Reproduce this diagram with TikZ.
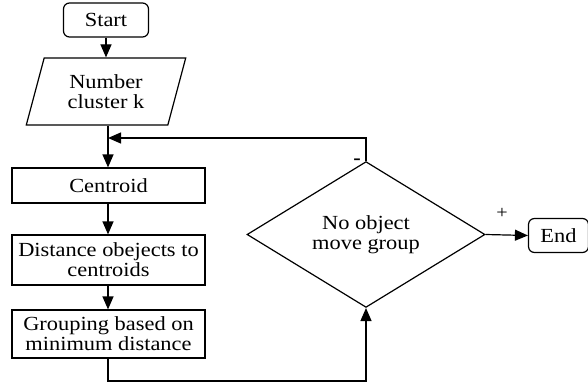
\documentclass[tikz,border=0pt]{standalone}
\usepackage{fontspec}
\setmainfont[FakeStretch=1.12]{Liberation Serif}
\usetikzlibrary{shapes.geometric,arrows.meta}
\tikzset{
  box/.style={draw, line width=0.6pt, minimum width=96.5pt, inner sep=1pt, align=center},
  term/.style={draw, line width=0.6pt, rounded corners=3pt, minimum height=17pt, inner sep=1pt},
  flow/.style={line width=0.6pt, -{Triangle[length=6.5pt,width=5.5pt]}},
}
\begin{document}
\begin{tikzpicture}[x=0.5pt, y=-0.5pt, font=\fontsize{10}{10}\selectfont]
\useasboundingbox (0,0) rectangle (588,385);
%% --- left column ---
\node[term, minimum width=42.5pt] (start) at (106,20) {Start};
\node[draw, line width=0.6pt, trapezium, trapezium stretches=true,
      trapezium left angle=72, trapezium right angle=108,
      minimum width=80pt, minimum height=33.5pt, inner sep=0pt, align=center]
      (clusters) at (106,91.5) {Number\\cluster k};
\node[box, minimum height=17.5pt] (centroid) at (108.5,185.5) {Centroid};
\node[box, minimum height=25pt] (distance) at (108.5,260) {Distance obejects to\\centroids};
\node[box, minimum height=24pt] (grouping) at (108.5,334) {Grouping based on\\minimum distance};
%% --- decision and end ---
\node[draw, line width=0.6pt, diamond, minimum width=119pt, minimum height=52.5pt,
      inner sep=0pt, align=center] (check) at (366,234.5) {No object\\move group};
\node[term, minimum width=30pt] (end) at (558.5,235.5) {End};
\coordinate (join) at (108,138);
\coordinate (low) at (108,381);
%% --- arrows ---
\draw[flow] (start) -- (clusters.north -| start);
\draw[line width=0.6pt] (clusters.south -| join) -- (join);
\draw[flow] (join) -- (centroid.north -| join);
\draw[flow] (centroid.south -| join) -- (distance.north -| join);
\draw[flow] (distance.south -| join) -- (grouping.north -| join);
\draw[flow] (grouping.south -| low) -- (low) -| (check.south);
\draw[flow] (check.north) |- (join);
\draw[flow] (check.east) -- (end.west);
%% --- labels ---
\node[font=\bfseries] (minus) at (357,162) {-};
\node[font=\small] (plus) at (502,213) {+};
\end{tikzpicture}
\end{document}
